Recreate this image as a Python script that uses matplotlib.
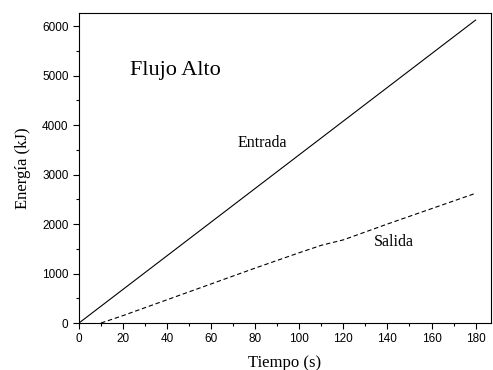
import matplotlib
matplotlib.use("Agg")
import matplotlib.pyplot as plt
from matplotlib.ticker import MultipleLocator

# Entrada (input energy) - straight line
t_entrada = [0, 180]
e_entrada = [0, 6120]

# Salida (output energy) - dashed line
t_salida = [10, 20, 40, 60, 80, 100, 110, 120, 140, 160, 180]
e_salida = [0, 150, 470, 790, 1110, 1420, 1570, 1680, 2000, 2310, 2620]

fig = plt.figure(figsize=(4.93, 3.70), dpi=100)
ax = fig.add_axes([79 / 493, 47 / 370, (491 - 79) / 493, (323 - 13) / 370])

ax.plot(t_entrada, e_entrada, color="black", lw=0.8)
ax.plot(t_salida, e_salida, color="black", lw=0.8, ls=(0, (4, 2.5)))

ax.set_xlim(0, 187)
ax.set_ylim(0, 6263)
ax.xaxis.set_major_locator(MultipleLocator(20))
ax.xaxis.set_minor_locator(MultipleLocator(10))
ax.yaxis.set_major_locator(MultipleLocator(1000))
ax.yaxis.set_minor_locator(MultipleLocator(500))
ax.tick_params(which="both", direction="out", labelsize=8.5)
ax.tick_params(which="major", length=4, width=0.8)
ax.tick_params(which="minor", length=2.5, width=0.8)
for lab in ax.get_xticklabels() + ax.get_yticklabels():
    lab.set_fontfamily("Liberation Sans")
for sp in ax.spines.values():
    sp.set_linewidth(0.8)

serif = "Liberation Serif"
ax.set_xlabel("Tiempo (s)", fontfamily=serif, fontsize=12, labelpad=7)
ax.set_ylabel("Energía (kJ)", fontfamily=serif, fontsize=12, labelpad=8)

ax.text(23, 5110, "Flujo Alto", fontfamily=serif, fontsize=16, va="center")
ax.text(72, 3640, "Entrada", fontfamily=serif, fontsize=11.5, va="center")
ax.text(134, 1636, "Salida", fontfamily=serif, fontsize=11.5, va="center")

fig.savefig("out.png", dpi=100)
